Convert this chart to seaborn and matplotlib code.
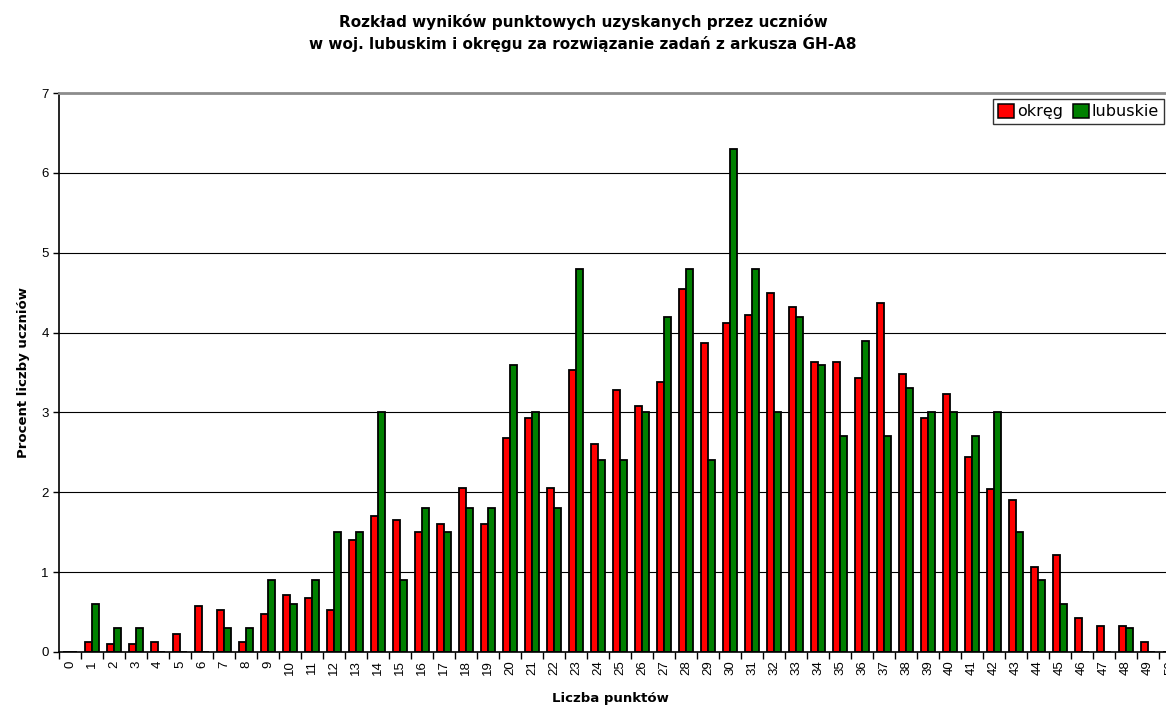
import numpy as np
import pandas as pd
import matplotlib
matplotlib.use("Agg")
import matplotlib.pyplot as plt
import seaborn as sns
from matplotlib.patches import Patch

# points 0..50
punkty = list(range(51))

okreg = [0.00, 0.13, 0.10, 0.10, 0.13, 0.23, 0.58, 0.53, 0.13, 0.48,
         0.72, 0.67, 0.53, 1.40, 1.70, 1.65, 1.50, 1.60, 2.05, 1.60,
         2.68, 2.93, 2.05, 3.53, 2.60, 3.28, 3.08, 3.38, 4.55, 3.87,
         4.12, 4.22, 4.50, 4.32, 3.63, 3.63, 3.43, 4.37, 3.48, 2.93,
         3.23, 2.44, 2.04, 1.90, 1.07, 1.22, 0.43, 0.33, 0.33, 0.13,
         0.00]

lubuskie = [0.0, 0.6, 0.3, 0.3, 0.0, 0.0, 0.0, 0.3, 0.3, 0.9,
            0.6, 0.9, 1.5, 1.5, 3.0, 0.9, 1.8, 1.5, 1.8, 1.8,
            3.6, 3.0, 1.8, 4.8, 2.4, 2.4, 3.0, 4.2, 4.8, 2.4,
            6.3, 4.8, 3.0, 4.2, 3.6, 2.7, 3.9, 2.7, 3.3, 3.0,
            3.0, 2.7, 3.0, 1.5, 0.9, 0.6, 0.0, 0.0, 0.3, 0.0,
            0.0]

serie = ["okręg", "lubuskie"]
kolory = {"okręg": "#FF0000", "lubuskie": "#008000"}

df = pd.DataFrame({
    "punkty": [str(p) for p in punkty] * 2,
    "procent": okreg + lubuskie,
    "seria": ["okręg"] * len(punkty) + ["lubuskie"] * len(punkty),
})

sns.set_style("white")
plt.rcParams["font.family"] = ["Liberation Sans", "DejaVu Sans"]
plt.rcParams.update({"text.color": "black", "axes.labelcolor": "black",
                     "xtick.color": "black", "ytick.color": "black"})
szeroki = ["DejaVu Sans"]  # wider face for the letter-spaced labels

fig = plt.figure(figsize=(11.66, 7.06), dpi=100)
ax = fig.add_axes([59 / 1166, 1 - 652 / 706, (1181 - 59) / 1166, (652 - 93) / 706])

sns.barplot(data=df, x="punkty", y="procent", hue="seria", hue_order=serie,
            palette=kolory, width=0.64, edgecolor="black", linewidth=1.3,
            saturation=1, ax=ax, legend=False)

ax.set_xlim(-0.5, 50.5)
ax.set_ylim(0, 7)
ax.set_yticks(range(8))
ax.yaxis.grid(True, color="black", linewidth=0.8)
ax.set_axisbelow(True)

ax.set_xticks(range(51))
ax.set_xticklabels([str(p) for p in punkty], rotation=90)
ax.set_xticks(np.arange(-0.5, 51, 1), minor=True)
ax.tick_params(axis="x", which="major", length=0, labelsize=9.5, pad=6)
ax.tick_params(axis="x", which="minor", length=5, width=1, color="black",
               direction="out", bottom=True)
ax.tick_params(axis="y", length=4, width=1, color="black", labelsize=9.5,
               left=True, direction="out")

for s in ["left", "bottom"]:
    ax.spines[s].set_color("black")
    ax.spines[s].set_linewidth(1.2)
ax.spines["right"].set_visible(False)
ax.spines["top"].set_color("#8c8c8c")
ax.spines["top"].set_linewidth(2)

ax.set_xlabel("Liczba punktów", fontsize=9.5, fontweight="bold",
              family=szeroki)
ax.set_ylabel("Procent liczby uczniów", fontsize=9.5, fontweight="bold",
              family=szeroki, labelpad=8)
ax.xaxis.set_label_coords((610 - 59) / (1181 - 59), -0.072)

fig.text(0.5, 1 - 33 / 706,
         "Rozkład wyników punktowych uzyskanych przez uczniów\n"
         "w woj. lubuskim i okręgu za rozwiązanie zadań z arkusza GH-A8",
         ha="center", va="center", fontsize=11, fontweight="bold",
         family=szeroki, linespacing=1.5)

uchwyty = [Patch(facecolor=kolory[s], edgecolor="black", linewidth=1.1, label=s)
           for s in serie]
leg = fig.legend(handles=uchwyty, loc="upper right",
                 bbox_to_anchor=(1164 / 1166, 1 - 99 / 706), ncol=2,
                 prop={"family": szeroki, "size": 11.5}, frameon=True,
                 fancybox=False, handlelength=1.0, handleheight=1.0,
                 handletextpad=0.2, columnspacing=0.6, borderpad=0.3,
                 borderaxespad=0)
leg.get_frame().set_edgecolor("black")
leg.get_frame().set_linewidth(1)

fig.savefig("out.png", dpi=100)
